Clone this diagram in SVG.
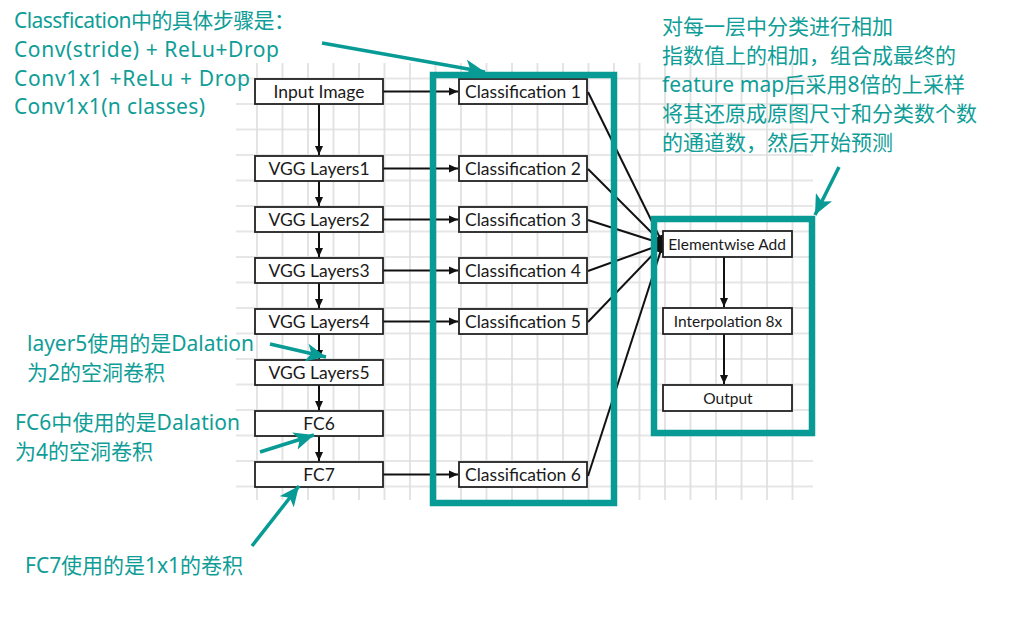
<svg xmlns="http://www.w3.org/2000/svg" width="1025" height="624" viewBox="0 0 1025 624">
<style>
.node rect{fill:#fff;stroke:#222;stroke-width:1.8}
.node text{font-family:Lato,"Liberation Sans",sans-serif;font-size:17.5px;fill:#1a1a1a;text-anchor:middle}
.node text.sm{font-size:15.5px}
.conn{stroke:#111;stroke-width:2;fill:none}
.teal{fill:none;stroke:#089b95;stroke-width:6.5}
.note{font-family:"Noto Sans","Noto Sans CJK SC",sans-serif;font-size:21px;fill:#0f9d97}
.call{stroke:#089b95;stroke-width:3.5;fill:none}
</style>
<defs>
<pattern id="grid" patternUnits="userSpaceOnUse" x="230.5" y="77.5" width="25.5" height="25.5">
<path d="M0 1H25.5M1 0V25.5" stroke="#dedede" stroke-width="1.6" fill="none"/>
</pattern>
<marker id="ah" markerUnits="userSpaceOnUse" markerWidth="10" markerHeight="10" refX="9" refY="5" orient="auto">
<path d="M0 1L9 5L0 9Z" fill="#111"/>
</marker>
<marker id="th" markerUnits="userSpaceOnUse" markerWidth="22" markerHeight="18" refX="20" refY="9" orient="auto">
<path d="M0 0L20 9L0 18L5 9Z" fill="#089b95"/>
</marker>
</defs>
<rect x="236" y="63" width="577" height="437" fill="url(#grid)"/>

<g id="connectors">
<path class="conn" d="M319 104V155" marker-end="url(#ah)"/>
<path class="conn" d="M319 181V206" marker-end="url(#ah)"/>
<path class="conn" d="M319 232V257" marker-end="url(#ah)"/>
<path class="conn" d="M319 283V308" marker-end="url(#ah)"/>
<path class="conn" d="M319 334V359" marker-end="url(#ah)"/>
<path class="conn" d="M319 385V410" marker-end="url(#ah)"/>
<path class="conn" d="M319 436V461" marker-end="url(#ah)"/>
<path class="conn" d="M383 91.5H458" marker-end="url(#ah)"/>
<path class="conn" d="M383 168.5H458" marker-end="url(#ah)"/>
<path class="conn" d="M383 219.5H458" marker-end="url(#ah)"/>
<path class="conn" d="M383 270.5H458" marker-end="url(#ah)"/>
<path class="conn" d="M383 321.5H458" marker-end="url(#ah)"/>
<path class="conn" d="M383 474.5H458" marker-end="url(#ah)"/>
<path class="conn" d="M588 92L663 244" marker-end="url(#ah)"/>
<path class="conn" d="M588 169L663 244" marker-end="url(#ah)"/>
<path class="conn" d="M588 220L663 244" marker-end="url(#ah)"/>
<path class="conn" d="M588 271L663 244" marker-end="url(#ah)"/>
<path class="conn" d="M588 322L663 244" marker-end="url(#ah)"/>
<path class="conn" d="M588 476L663 244" marker-end="url(#ah)"/>
<path class="conn" d="M724 257V307" marker-end="url(#ah)"/>
<path class="conn" d="M724 334V384" marker-end="url(#ah)"/>
</g>

<g id="input_image" class="node"><rect x="255" y="79" width="128" height="25"/><text x="319" y="97.5">Input Image</text></g>
<g id="vgg1" class="node"><rect x="255" y="156" width="128" height="25"/><text x="319" y="174.5">VGG Layers1</text></g>
<g id="vgg2" class="node"><rect x="255" y="207" width="128" height="25"/><text x="319" y="225.5">VGG Layers2</text></g>
<g id="vgg3" class="node"><rect x="255" y="258" width="128" height="25"/><text x="319" y="276.5">VGG Layers3</text></g>
<g id="vgg4" class="node"><rect x="255" y="309" width="128" height="25"/><text x="319" y="327.5">VGG Layers4</text></g>
<g id="vgg5" class="node"><rect x="255" y="360" width="128" height="25"/><text x="319" y="378.5">VGG Layers5</text></g>
<g id="fc6" class="node"><rect x="255" y="411" width="128" height="25"/><text x="319" y="429.5">FC6</text></g>
<g id="fc7" class="node"><rect x="255" y="462" width="128" height="25"/><text x="319" y="480.5">FC7</text></g>

<g id="cls1" class="node"><rect x="459" y="79" width="128" height="25"/><text x="523" y="97.5">Classification 1</text></g>
<g id="cls2" class="node"><rect x="459" y="156" width="128" height="25"/><text x="523" y="174.5">Classification 2</text></g>
<g id="cls3" class="node"><rect x="459" y="207" width="128" height="25"/><text x="523" y="225.5">Classification 3</text></g>
<g id="cls4" class="node"><rect x="459" y="258" width="128" height="25"/><text x="523" y="276.5">Classification 4</text></g>
<g id="cls5" class="node"><rect x="459" y="309" width="128" height="25"/><text x="523" y="327.5">Classification 5</text></g>
<g id="cls6" class="node"><rect x="459" y="462" width="128" height="25"/><text x="523" y="480.5">Classification 6</text></g>

<g id="elementwise_add" class="node"><rect x="663" y="231" width="129" height="26"/><text class="sm" x="727" y="249.5">Elementwise Add</text></g>
<g id="interpolation" class="node"><rect x="663" y="308" width="129" height="26"/><text class="sm" x="728" y="326.5">Interpolation 8x</text></g>
<g id="output" class="node"><rect x="663" y="385" width="129" height="26"/><text class="sm" x="728" y="403.5">Output</text></g>

<g id="groups">
<rect class="teal" x="433" y="75" width="181" height="428"/>
<rect class="teal" x="654" y="219" width="158" height="214"/>
</g>

<g id="callouts">
<path class="call" d="M322 43L485 72" marker-end="url(#th)"/>
<path class="call" d="M839 167L815 215" marker-end="url(#th)"/>
<path class="call" d="M270 344L326 357" marker-end="url(#th)"/>
<path class="call" d="M260 452L314 435" marker-end="url(#th)"/>
<path class="call" d="M252 546L299 486" marker-end="url(#th)"/>
</g>

<g id="notes">
<text class="note" x="14" y="28" textLength="281" lengthAdjust="spacing">Classfication中的具体步骤是：</text>
<text class="note" x="14" y="57" textLength="265" lengthAdjust="spacing">Conv(stride) + ReLu+Drop</text>
<text class="note" x="14" y="86" textLength="236" lengthAdjust="spacing">Conv1x1 +ReLu + Drop</text>
<text class="note" x="14" y="114" textLength="191" lengthAdjust="spacing">Conv1x1(n  classes)</text>
<text class="note" x="662" y="34">对每一层中分类进行相加</text>
<text class="note" x="662" y="63">指数值上的相加，组合成最终的</text>
<text class="note" x="662" y="92" textLength="303" lengthAdjust="spacing">feature map后采用8倍的上采样</text>
<text class="note" x="662" y="121">将其还原成原图尺寸和分类数个数</text>
<text class="note" x="662" y="150">的通道数，然后开始预测</text>
<text class="note" x="27" y="351" textLength="227" lengthAdjust="spacing">layer5使用的是Dalation</text>
<text class="note" x="27" y="380">为2的空洞卷积</text>
<text class="note" x="15" y="430" textLength="225" lengthAdjust="spacing">FC6中使用的是Dalation</text>
<text class="note" x="15" y="459">为4的空洞卷积</text>
<text class="note" x="25" y="573" textLength="218" lengthAdjust="spacing">FC7使用的是1x1的卷积</text>
</g>
</svg>
